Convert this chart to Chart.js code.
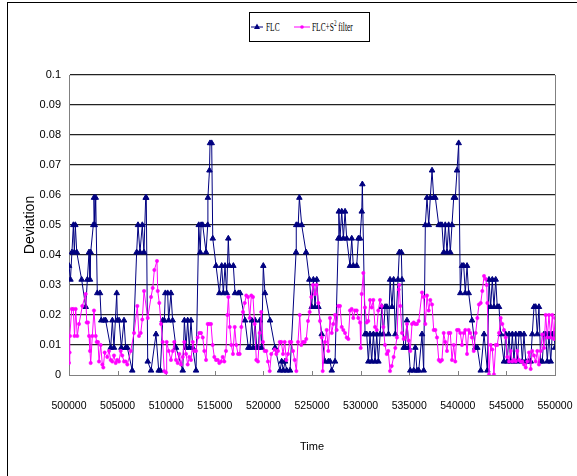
<!DOCTYPE html>
<html>
<head>
<meta charset="utf-8">
<title>Deviation vs Time</title>
<script src="https://cdn.jsdelivr.net/npm/chart.js@4.4.1/dist/chart.umd.min.js"></script>
<style>
    body { margin: 0; background: #fff; }
    #wrap { position: relative; width: 577px; height: 476px; overflow: hidden; background: #fff; }
    #frame { position: absolute; left: 7px; top: 2px; width: 620px; height: 520px; border-left: 1px solid #000; border-top: 1px solid #000; }
    #chart { position: absolute; left: 0; top: 0; }
    #legend { position: absolute; left: 249px; top: 12px; width: 119px; height: 28px; border: 1px solid #000; background: #fff;
              font-family: 'Liberation Serif', 'Times New Roman', serif; font-size: 13px; color: #000; }
    #legend svg { position: absolute; left: -1px; top: -1px; }
    #legend span { position: absolute; top: 6px; white-space: nowrap; transform: scaleX(0.57); transform-origin: 0 0; line-height: 15px; }
    #legend sup { font-size: 9px; line-height: 0; }
</style>
</head>
<body>
<div id="wrap">
    <div id="frame"></div>
    <canvas id="chart" width="577" height="476"></canvas>
    <div id="legend">
        <svg width="121" height="30">
            <line x1="2" y1="15" x2="14" y2="15" stroke="#000080" stroke-width="1"/>
            <polygon points="8,11.5 11,17 5,17" fill="#000080"/>
            <line x1="45" y1="15" x2="61" y2="15" stroke="#ff00ff" stroke-width="1"/>
            <circle cx="53" cy="15" r="1.8" fill="#ff00ff"/>
        </svg>
        <span style="left:16px">FLC</span>
        <span style="left:62px">FLC+S<sup>2</sup> filter</span>
    </div>
</div>
<script>
// Series names
const seriesNames = ['FLC', 'FLC+S² filter'];

// Axis ticks
const xTicks = [500000, 505000, 510000, 515000, 520000, 525000, 530000, 535000, 540000, 545000, 550000];
const yTicks = [0, 0.01, 0.02, 0.03, 0.04, 0.05, 0.06, 0.07, 0.08, 0.09, 0.1];
const yTickLabels = ['0', '0.01', '0.02', '0.03', '0.04', '0.05', '0.06', '0.07', '0.08', '0.09', '0.1'];

// FLC series
const flcTime = [
    500000, 500150, 500300, 500450, 500550, 500650, 500800, 501300, 501720, 501890,
    502060, 502160, 502230, 502500, 502570, 502650, 502750, 502910, 503190, 503320,
    503600, 503770, 504290, 504460, 504630, 504910, 504980, 505150, 505390, 505660,
    505830, 506000, 506510, 506960, 507100, 507300, 507540, 507710, 507890, 507950,
    508100, 508440, 508950, 509230, 509400, 509640, 509810, 509910, 510150, 510250,
    510490, 510660, 511010, 511700, 511870, 512040, 512210, 512380, 512550, 512730,
    513070, 513350, 513500, 513590, 513760, 514100, 514270, 514290, 514450, 514510,
    514680, 514790, 515130, 515470, 515710, 515880, 516050, 516220, 516390, 516500,
    516910, 517080, 517430, 517600, 518110, 518450, 518620, 518800, 518970, 519140,
    519310, 519480, 519650, 519820, 519990, 520160, 520680, 521200, 521710, 521880,
    522050, 522220, 522400, 522740, 523360, 523380, 523580, 523700, 523940, 524390,
    524730, 524970, 525140, 525310, 525490, 525660, 526000, 526340, 526680, 526860,
    527030, 527370, 527710, 527760, 527880, 528060, 528230, 528400, 528570, 528910,
    529090, 529250, 529600, 529770, 529940, 530120, 530180, 530460, 530630, 530800,
    530970, 531140, 531320, 531490, 531660, 531830, 532010, 532180, 532350, 532520,
    532700, 532870, 533030, 533230, 533400, 533570, 533850, 533980, 534190, 534260,
    534430, 534600, 534770, 534950, 535110, 535460, 535630, 535800, 535980, 536320,
    536490, 536660, 536830, 537010, 537170, 537350, 537520, 537690, 538040, 538200,
    538370, 538550, 538710, 538890, 539060, 539230, 539400, 539580, 539740, 539920,
    540090, 540260, 540430, 540610, 540770, 540950, 541120, 541460, 541800, 542010,
    542360, 542700, 543040, 543210, 543380, 543550, 543720, 543900, 544060, 544240,
    544410, 544750, 544930, 545090, 545270, 545440, 545610, 545780, 545960, 546120,
    546300, 546470, 546640, 546810, 546990, 547320, 547500, 547660, 547840, 548010,
    548180, 548350, 548530, 548690, 548870, 549040, 549210, 549380, 549560, 549720,
    549900, 550000
];
const flcDeviation = [
    0.0364, 0.0318, 0.0409, 0.05, 0.0409, 0.05, 0.0409, 0.0318, 0.0227, 0.0318,
    0.0409, 0.0318, 0.0409, 0.05, 0.0591, 0.05, 0.0591, 0.0273, 0.0273, 0.0182,
    0.0182, 0.0182, 0.0091, 0.0182, 0.0091, 0.0273, 0.0182, 0.0182, 0.0091, 0.0182,
    0.0091, 0.0091, 0.0015, 0.0409, 0.05, 0.0409, 0.05, 0.0409, 0.0591, 0.0591,
    0.0045, 0.0015, 0.0136, 0.0015, 0.0015, 0.0182, 0.0182, 0.0273, 0.0273, 0.0182,
    0.0273, 0.0182, 0.0091, 0.0015, 0.0182, 0.0091, 0.0182, 0.0091, 0.0182, 0.0091,
    0.0015, 0.05, 0.0409, 0.05, 0.05, 0.0409, 0.05, 0.0591, 0.0682, 0.0773,
    0.0773, 0.0455, 0.0364, 0.0273, 0.0364, 0.0273, 0.0364, 0.0273, 0.0455, 0.0364,
    0.0364, 0.0273, 0.0273, 0.0273, 0.0182, 0.0091, 0.0091, 0.0182, 0.0091, 0.0182,
    0.0091, 0.0091, 0.0182, 0.0091, 0.0364, 0.0273, 0.0182, 0.0091, 0.0015, 0.0045,
    0.0015, 0.0045, 0.0015, 0.0015, 0.0409, 0.05, 0.05, 0.0591, 0.05, 0.0409,
    0.0318, 0.0227, 0.0318, 0.0227, 0.0318, 0.0227, 0.0136, 0.0045, 0.0045, 0.0045,
    0.0015, 0.0045, 0.0455, 0.0545, 0.0455, 0.0545, 0.0455, 0.0545, 0.0455, 0.0364,
    0.0455, 0.0364, 0.0364, 0.0455, 0.0455, 0.0545, 0.0636, 0.0136, 0.0136, 0.0045,
    0.0136, 0.0045, 0.0136, 0.0045, 0.0136, 0.0045, 0.0136, 0.0227, 0.0136, 0.0227,
    0.0227, 0.0136, 0.0318, 0.0227, 0.0318, 0.0136, 0.0318, 0.0409, 0.0409, 0.0318,
    0.0091, 0.0091, 0.0182, 0.0091, 0.0015, 0.0015, 0.0091, 0.0015, 0.0015, 0.0136,
    0.0015, 0.05, 0.0591, 0.05, 0.0591, 0.0682, 0.0591, 0.0591, 0.05, 0.05,
    0.05, 0.0409, 0.05, 0.0409, 0.05, 0.0409, 0.05, 0.0591, 0.0591, 0.0682,
    0.0773, 0.0273, 0.0364, 0.0364, 0.0273, 0.0364, 0.0273, 0.0182, 0.0091, 0.0091,
    0.0015, 0.0136, 0.0015, 0.0318, 0.0227, 0.0318, 0.0227, 0.0318, 0.0227, 0.0227,
    0.0136, 0.0045, 0.0136, 0.0045, 0.0136, 0.0045, 0.0136, 0.0045, 0.0136, 0.0045,
    0.0136, 0.0136, 0.0045, 0.0136, 0.0045, 0.0045, 0.0045, 0.0136, 0.0227, 0.0227,
    0.0136, 0.0227, 0.0045, 0.0045, 0.0136, 0.0136, 0.0045, 0.0136, 0.0045, 0.0136,
    0.0136, 0.0091
];

// FLC+S2 filter series
const filterTime = [
    500000, 500060, 500100, 500280, 500440, 500570, 500690, 500850, 501030, 501370,
    501720, 501820, 501950, 502060, 502160, 502230, 502400, 502570, 502750, 502850,
    502980, 503090, 503260, 503430, 503530, 503670, 503940, 504120, 504290, 504450,
    504630, 504800, 504970, 505140, 505320, 505480, 505660, 505830, 506000, 506350,
    506690, 507030, 507200, 507380, 507540, 507720, 508100, 508440, 508610, 508780,
    509050, 509130, 509290, 509470, 509640, 509800, 509980, 510050, 510260, 510490,
    510670, 510830, 511010, 511180, 511350, 511520, 511700, 511860, 512040, 512210,
    512380, 512550, 512730, 512890, 513070, 513240, 513410, 513580, 513760, 513920,
    514100, 514270, 514430, 514610, 514780, 514950, 515120, 515300, 515460, 515640,
    515810, 515980, 516150, 516290, 516400, 516540, 516700, 516870, 517050, 517210,
    517390, 517560, 517730, 517900, 518080, 518240, 518420, 518590, 518760, 518930,
    519100, 519270, 519440, 519620, 519780, 519960, 520130, 520300, 520470, 520650,
    520810, 521160, 521330, 521500, 521680, 521840, 522020, 522190, 522360, 522530,
    522710, 522870, 523050, 523220, 523390, 523560, 523740, 523900, 524070, 524250,
    524410, 524590, 524760, 524930, 525100, 525310, 525480, 525650, 525820, 526000,
    526100, 526340, 526510, 526680, 526850, 527030, 527190, 527370, 527540, 527710,
    527880, 528060, 528220, 528400, 528570, 528740, 528910, 529080, 529250, 529420,
    529600, 529760, 529940, 530010, 530110, 530280, 530450, 530630, 530790, 530970,
    531140, 531310, 531480, 531660, 531820, 532000, 532170, 532340, 532510, 532690,
    532850, 533030, 533200, 533400, 533570, 533745, 533920, 533980, 534085, 534260,
    534430, 534600, 534770, 534950, 535110, 535290, 535460, 535630, 535800, 535980,
    536320, 536490, 536660, 536830, 537010, 537170, 537350, 537520, 537690, 537860,
    538040, 538200, 538370, 538550, 538710, 538890, 539060, 539230, 539400, 539580,
    539740, 539920, 540090, 540260, 540430, 540610, 540770, 540950, 541120, 541290,
    541460, 541640, 541840, 542010, 542180, 542360, 542520, 542700, 542870, 542970,
    543040, 543210, 543390, 543550, 543720, 543900, 544060, 544240, 544410, 544580,
    544750, 544930, 545090, 545270, 545440, 545610, 545780, 545960, 546120, 546300,
    546470, 546640, 546810, 546990, 547150, 547330, 547500, 547660, 547840, 548010,
    548180, 548350, 548530, 548690, 548870, 549040, 549210, 549380, 549560, 549720,
    549900, 550000
];
const filterDeviation = [
    0.0040, 0.0075, 0.013, 0.022, 0.022, 0.013, 0.022, 0.013, 0.017, 0.023,
    0.027, 0.0175, 0.0175, 0.013, 0.008, 0.004, 0.013, 0.0215, 0.013, 0.011,
    0.011, 0.0045, 0.010, 0.0035, 0.0025, 0.0075, 0.006, 0.008, 0.005, 0.0045,
    0.0065, 0.004, 0.005, 0.0045, 0.008, 0.0065, 0.0045, 0.0045, 0.0035, 0.008,
    0.014, 0.023, 0.013, 0.014, 0.0185, 0.028, 0.019, 0.026, 0.029, 0.035,
    0.038, 0.028, 0.024, 0.017, 0.011, 0.0013, 0.0008, 0.011, 0.008, 0.005,
    0.008, 0.011, 0.005, 0.004, 0.007, 0.0035, 0.006, 0.011, 0.007, 0.0035,
    0.006, 0.005, 0.011, 0.008, 0.008, 0.0125, 0.014, 0.014, 0.0125, 0.008,
    0.005, 0.017, 0.017, 0.017, 0.010, 0.006, 0.005, 0.005, 0.004, 0.0045,
    0.006, 0.0045, 0.008, 0.020, 0.026, 0.016, 0.010, 0.007, 0.016, 0.010,
    0.007, 0.007, 0.016, 0.021, 0.024, 0.0265, 0.026, 0.019, 0.0265, 0.026,
    0.017, 0.005, 0.0045, 0.014, 0.021, 0.011, 0.008, 0.008, 0.0045, 0.0013,
    0.007, 0.0085, 0.007, 0.008, 0.011, 0.011, 0.007, 0.011, 0.005, 0.007,
    0.011, 0.011, 0.008, 0.005, 0.0013, 0.011, 0.020, 0.010, 0.011, 0.011,
    0.012, 0.018, 0.021, 0.026, 0.030, 0.027, 0.030, 0.024, 0.018, 0.0125,
    0.0013, 0.011, 0.015, 0.008, 0.019, 0.014, 0.017, 0.020, 0.015, 0.023,
    0.023, 0.016, 0.015, 0.014, 0.0125, 0.012, 0.0215, 0.022, 0.019, 0.0215,
    0.0215, 0.019, 0.0175, 0.009, 0.027, 0.034, 0.0225, 0.0175, 0.018, 0.025,
    0.0225, 0.025, 0.016, 0.015, 0.0215, 0.025, 0.023, 0.016, 0.010, 0.007,
    0.008, 0.0013, 0.003, 0.006, 0.009, 0.0125, 0.0285, 0.030, 0.023, 0.014,
    0.012, 0.0125, 0.017, 0.0115, 0.008, 0.017, 0.0175, 0.017, 0.017, 0.018,
    0.0275, 0.026, 0.017, 0.0265, 0.0215, 0.025, 0.0235, 0.015, 0.015, 0.0125,
    0.005, 0.0045, 0.005, 0.014, 0.011, 0.008, 0.014, 0.014, 0.005, 0.010,
    0.0045, 0.015, 0.015, 0.014, 0.010, 0.014, 0.015, 0.007, 0.015, 0.014,
    0.0125, 0.008, 0.014, 0.019, 0.0235, 0.024, 0.028, 0.033, 0.032, 0.030,
    0.024, 0.0002, 0.010, 0.0085, 0.0002, 0.010, 0.010, 0.014, 0.019, 0.017,
    0.015, 0.0125, 0.006, 0.0045, 0.008, 0.0045, 0.005, 0.0045, 0.008, 0.005,
    0.0045, 0.0045, 0.0035, 0.0025, 0.0045, 0.0075, 0.002, 0.008, 0.0065, 0.0045,
    0.008, 0.0035, 0.008, 0.0135, 0.009, 0.020, 0.0125, 0.020, 0.0125, 0.020,
    0.012, 0.019
];

const tickFont = "'Liberation Sans', Arial, sans-serif";

// Gray plot border on the right plus small tick marks on the time axis
const plotFramePlugin = {
    id: 'plotFrame',
    beforeDatasetsDraw(chart) {
        const { ctx, chartArea, scales } = chart;
        ctx.save();
        ctx.strokeStyle = '#808080';
        ctx.lineWidth = 1;
        ctx.beginPath();
        ctx.moveTo(Math.round(chartArea.right) + 0.5, chartArea.top);
        ctx.lineTo(Math.round(chartArea.right) + 0.5, chartArea.bottom);
        xTicks.forEach(v => {
            const px = Math.round(scales.x.getPixelForValue(v)) + 0.5;
            ctx.moveTo(px, chartArea.bottom);
            ctx.lineTo(px, chartArea.bottom - 4);
        });
        ctx.stroke();
        ctx.restore();
    }
};

const ctx = document.getElementById('chart');
new Chart(ctx, {
    type: 'scatter',
    data: {
        datasets: [
            {
                label: seriesNames[0],
                data: flcTime.map((t, i) => ({ x: t, y: flcDeviation[i] })),
                showLine: true,
                borderColor: '#000080',
                backgroundColor: '#000080',
                borderWidth: 1,
                pointStyle: 'triangle',
                pointRadius: 3.2,
                pointBorderWidth: 1,
                order: 1
            },
            {
                label: seriesNames[1],
                data: filterTime.map((t, i) => ({ x: t, y: filterDeviation[i] })),
                showLine: true,
                borderColor: '#ff00ff',
                backgroundColor: '#ff00ff',
                borderWidth: 1,
                pointStyle: 'circle',
                pointRadius: 1.7,
                pointBorderWidth: 0.5,
                order: 0
            }
        ]
    },
    options: {
        responsive: false,
        animation: false,
        layout: { padding: { top: 75, right: 22, bottom: 0, left: 0 } },
        plugins: {
            legend: { display: false },
            tooltip: { enabled: false }
        },
        scales: {
            x: {
                type: 'linear',
                min: 500000,
                max: 550000,
                afterBuildTicks: axis => { axis.ticks = xTicks.map(v => ({ value: v })); },
                afterFit: scale => {
                    scale.height = 101;
                    scale.paddingLeft = 0;
                    scale.paddingRight = 0;
                },
                grid: { display: false, drawTicks: false },
                border: { display: true, color: '#808080', width: 1 },
                ticks: {
                    padding: 25,
                    maxRotation: 0,
                    autoSkip: false,
                    color: '#000',
                    font: { family: tickFont, size: 10.5 },
                    callback: value => String(value)
                },
                title: {
                    display: true,
                    text: 'Time',
                    color: '#000',
                    font: { family: tickFont, size: 11 },
                    padding: { top: 0, bottom: 22 }
                }
            },
            y: {
                min: 0,
                max: 0.1,
                afterBuildTicks: axis => { axis.ticks = yTicks.map(v => ({ value: v })); },
                afterFit: scale => { scale.width = 69; },
                grid: {
                    drawTicks: false,
                    lineWidth: 1.2,
                    color: c => (c.tick && c.tick.value === 0) ? 'rgba(0,0,0,0)' : '#222'
                },
                border: { display: true, color: '#808080', width: 1 },
                ticks: {
                    padding: 8,
                    autoSkip: false,
                    color: '#000',
                    font: { family: tickFont, size: 11 },
                    callback: (value, index) => yTickLabels[index]
                },
                title: {
                    display: true,
                    text: 'Deviation',
                    color: '#000',
                    font: { family: tickFont, size: 14 },
                    padding: { top: 22, bottom: 0 }
                }
            }
        }
    },
    plugins: [plotFramePlugin]
});
</script>
</body>
</html>
